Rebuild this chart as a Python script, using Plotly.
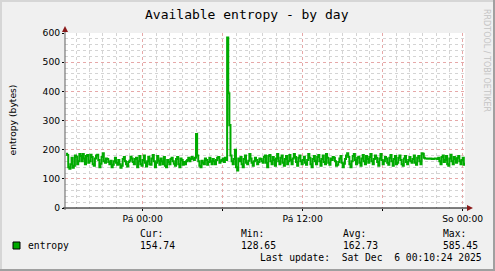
import plotly.graph_objects as go
import pandas as pd

# ---- data (5-minute samples, Thu 18:15 -> Sat 00:10) ----
start_time = "2025-12-04 18:15:00"
step_minutes = 5
entropy = [
    186, 182, 140, 135, 150, 172, 138, 145, 180, 176, 150, 160,
    185, 178, 160, 185, 170, 150, 178, 182, 155, 160, 183, 175,
    150, 145, 170, 180, 183, 165, 140, 152, 175, 188, 160, 155,
    170, 168, 158, 150, 162, 140, 148, 160, 172, 155, 148, 165,
    150, 138, 145, 168, 175, 160, 150, 142, 158, 162, 176, 170,
    158, 150, 168, 172, 140, 160, 178, 150, 145, 165, 180, 155,
    142, 160, 176, 150, 148, 170, 182, 160, 140, 155, 178, 162,
    148, 170, 160, 150, 175, 145, 140, 165, 158, 150, 168, 172,
    160, 152, 145, 168, 175, 150, 140, 170, 165, 148, 158, 150,
    160, 165, 172, 160, 168, 175, 170, 165, 172, 254, 180, 160,
    145, 140, 162, 155, 150, 170, 165, 148, 158, 172, 160, 150,
    168, 160, 150, 165, 172, 175, 155, 160, 165, 170, 158, 172,
    165, 585, 393, 285, 180, 160, 150, 168, 200, 140, 129, 170,
    160, 175, 150, 140, 168, 180, 155, 150, 162, 185, 170, 155,
    145, 160, 172, 165, 150, 158, 170, 168, 160, 155, 175, 180,
    155, 140, 178, 182, 160, 150, 175, 165, 145, 170, 185, 160,
    150, 172, 180, 155, 145, 168, 178, 150, 160, 182, 165, 150,
    170, 185, 175, 158, 145, 172, 180, 160, 150, 165, 176, 155,
    148, 165, 185, 172, 150, 140, 168, 178, 160, 150, 175, 182,
    160, 145, 168, 180, 158, 150, 185, 172, 155, 148, 170, 165,
    175, 172, 160, 145, 148, 158, 170, 178, 155, 140, 152, 168,
    180, 188, 175, 150, 140, 160, 178, 185, 165, 150, 172, 176,
    155, 145, 170, 182, 160, 150, 178, 168, 155, 175, 185, 160,
    150, 168, 180, 172, 158, 145, 170, 185, 165, 150, 160, 175,
    170, 155, 148, 172, 182, 160, 145, 168, 178, 150, 155, 172,
    180, 165, 150, 145, 170, 178, 158, 150, 165, 175, 160, 155,
    168, 180, 155, 148, 172, 178, 160, 150, 188, 186, 172, 170,
    170, 169, 169, 170, 170, 168, 168, 169, 170, 170, 168, 172,
    160, 150, 175, 180, 158, 165, 178, 150, 145, 170, 183, 160,
    150, 175, 168, 155, 172, 178, 160, 150, 165, 172, 148, 154.74,
]
times = pd.date_range(start_time, periods=len(entropy), freq=f"{step_minutes}min")

x_range = ["2025-12-04 18:10:24", "2025-12-06 00:10:24"]
x_tickvals = ["2025-12-05 00:00", "2025-12-05 06:00", "2025-12-05 12:00",
              "2025-12-05 18:00", "2025-12-06 00:00"]
x_ticktext = ["Pá 00:00", "", "Pá 12:00", "", "So 00:00"]
y_tickvals = [0, 100, 200, 300, 400, 500, 600]

title = "Available entropy - by day"
y_title = "entropy (bytes)"
series_name = "entropy"
stat_labels = ["Cur:", "Min:", "Avg:", "Max:"]
stat_values = ["154.74", "128.65", "162.73", "585.45"]
last_update = "Last update:\u00a0\u00a0Sat Dec\u00a0\u00a06 00:10:24 2025"
watermark = "RRDTOOL / TOBI OETIKER"

# ---- layout geometry ----
W, H = 495, 271
L, R, T, B = 65, 465, 33, 208
PW, PH = R - L, B - T


def px(x):
    return (x - L) / PW


def py(y):
    return (B - y) / PH


GREEN = "#00AA00"
MONO = "DejaVu Sans Mono"
SANS = "DejaVu Sans"

fig = go.Figure()
fig.add_trace(go.Scatter(
    x=times, y=entropy, mode="lines", line=dict(color=GREEN, width=2, shape="hv"),
    hoverinfo="skip", showlegend=False))

fig.update_layout(
    width=W, height=H,
    margin=dict(l=L, r=W - R, t=T, b=H - B),
    paper_bgcolor="#F0F0F0", plot_bgcolor="#FFFFFF",
    showlegend=False,
    xaxis=dict(
        type="date", range=x_range, tickmode="array", tickvals=x_tickvals, ticktext=x_ticktext,
        showgrid=True, gridcolor="#E6A8A8", griddash="dot", gridwidth=1,
        ticks="outside", ticklen=2, tickcolor="#000000",
        tickfont=dict(family=SANS, size=9.2, color="#000000"),
        minor=dict(dtick=3600000, tick0="2025-12-05 00:00", showgrid=True,
                   gridcolor="#D4D4D4", griddash="dot", gridwidth=1, ticks=""),
        showline=False, zeroline=False, fixedrange=True,
    ),
    yaxis=dict(
        range=[0, 600], tickmode="array", tickvals=y_tickvals,
        showgrid=True, gridcolor="#E6A8A8", griddash="dot", gridwidth=1,
        ticks="outside", ticklen=2, tickcolor="#000000",
        tickfont=dict(family=SANS, size=9.2, color="#000000"),
        minor=dict(dtick=20, showgrid=True, gridcolor="#D4D4D4", griddash="dot",
                   gridwidth=1, ticks=""),
        showline=False, zeroline=False, fixedrange=True,
    ),
)

shapes = []
# frame shading
shapes.append(dict(type="rect", xref="paper", yref="paper", x0=px(0), x1=px(2), y0=py(0), y1=py(H),
                   fillcolor="#D6D6D6", line=dict(width=0), layer="below"))
shapes.append(dict(type="rect", xref="paper", yref="paper", x0=px(0), x1=px(W), y0=py(0), y1=py(2),
                   fillcolor="#D6D6D6", line=dict(width=0), layer="below"))
shapes.append(dict(type="rect", xref="paper", yref="paper", x0=px(W - 2), x1=px(W), y0=py(0), y1=py(H),
                   fillcolor="#A0A0A0", line=dict(width=0), layer="below"))
shapes.append(dict(type="rect", xref="paper", yref="paper", x0=px(0), x1=px(W), y0=py(H - 2), y1=py(H),
                   fillcolor="#A0A0A0", line=dict(width=0), layer="below"))
# axes
shapes.append(dict(type="line", xref="paper", yref="paper", x0=px(L - 2), x1=px(468), y0=py(B), y1=py(B),
                   line=dict(color="#000000", width=1)))
shapes.append(dict(type="line", xref="paper", yref="paper", x0=px(L), x1=px(L), y0=py(B + 2), y1=py(30),
                   line=dict(color="#606060", width=1)))
# arrows
shapes.append(dict(type="path", xref="paper", yref="paper",
                   path=f"M {px(467)} {py(B - 3)} L {px(473)} {py(B)} L {px(467)} {py(B + 3)} Z",
                   fillcolor="#8B1A1A", line=dict(width=0)))
shapes.append(dict(type="path", xref="paper", yref="paper",
                   path=f"M {px(L - 3)} {py(32)} L {px(L)} {py(26)} L {px(L + 3)} {py(32)} Z",
                   fillcolor="#8B1A1A", line=dict(width=0)))
# legend swatch
shapes.append(dict(type="rect", xref="paper", yref="paper", x0=px(13), x1=px(20), y0=py(242), y1=py(249),
                   fillcolor=GREEN, line=dict(color="#000000", width=1)))
fig.update_layout(shapes=shapes)

ann = []


def text(x, y, s, size=9.7, family=MONO, color="#000000", xanchor="left", angle=0):
    ann.append(dict(xref="paper", yref="paper", x=px(x), y=py(y), text=s, showarrow=False,
                    xanchor=xanchor, yanchor="middle", borderpad=0, textangle=angle,
                    font=dict(family=family, size=size, color=color)))


text(247, 14, title, size=13, xanchor="center")
text(11.5, 120, y_title, size=9.2, family=SANS, xanchor="center", angle=-90)
text(486, 60, watermark, size=8, family=SANS, color="#C4C4C4", xanchor="center", angle=90)
text(27, 245.5, series_name)
for lx, lab, val in zip([139, 240, 342, 442], stat_labels, stat_values):
    text(lx, 233.5, lab)
    text(lx, 245.5, val)
text(259, 257.5, last_update)
fig.update_layout(annotations=ann)

fig.write_html("out.html")
